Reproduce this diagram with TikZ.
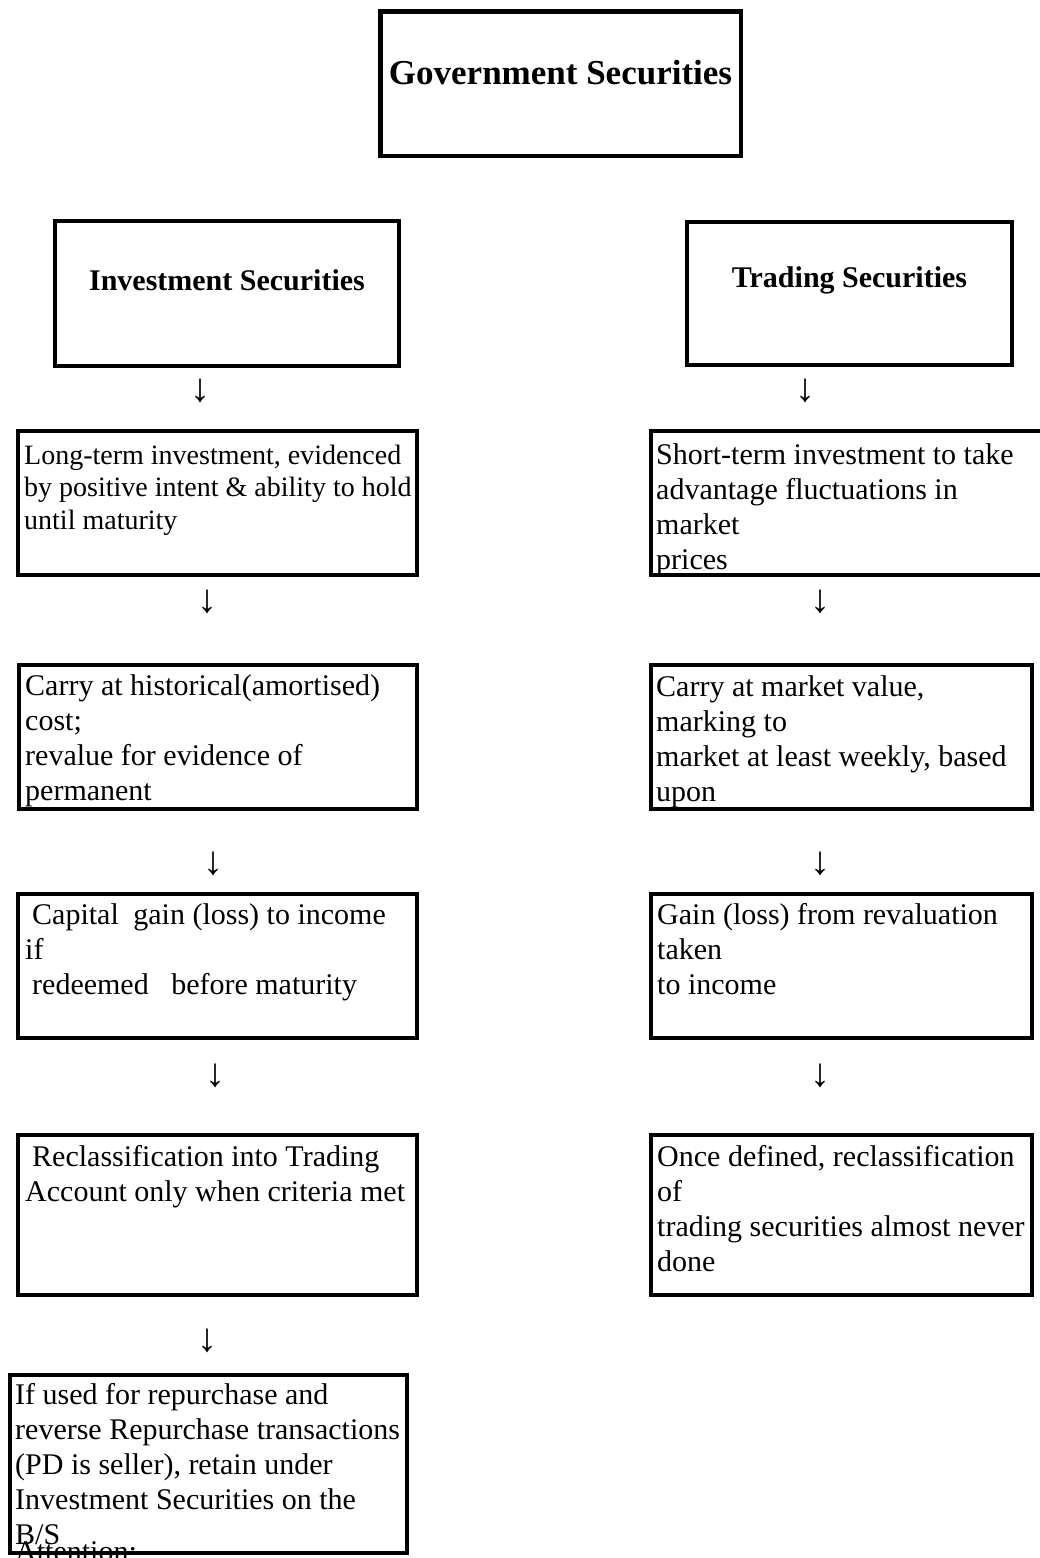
\documentclass[tikz,border=0pt]{standalone}
\usepackage{fontspec}
\setmainfont{Liberation Serif}
\begin{document}
\begin{tikzpicture}[x=1pt,y=-1pt,
  box/.style={draw=black, line width=4.5pt, rectangle, inner sep=0pt},
  title/.style={inner sep=0pt, anchor=base, font=\bfseries\fontsize{30}{35}\selectfont},
  body/.style={inner sep=0pt, anchor=base west, font=\fontsize{30}{35}\selectfont},
  smallbody/.style={inner sep=0pt, anchor=base west, font=\fontsize{28}{32.5}\selectfont},
  darrow/.style={inner sep=0pt, anchor=center, font=\fontsize{40}{44}\selectfont}]
\fill[white] (0,0) rectangle (1039,1558);
\useasboundingbox (0,0) rectangle (1039,1558);
% boxes
\node[box, minimum width=360.5pt, minimum height=144.5pt] (gov) at (560.5,83.5) {};
\node[box, minimum width=344pt, minimum height=145pt] (inv) at (227,293.5) {};
\node[box, minimum width=325pt, minimum height=143pt] (trd) at (849.5,293.5) {};
\node[box, minimum width=399pt, minimum height=144pt] (l1) at (217.5,503) {};
\node[box, minimum width=399pt, minimum height=144pt] (r1) at (850.5,503) {};
\node[box, minimum width=398pt, minimum height=144pt] (l2) at (218,737) {};
\node[box, minimum width=381pt, minimum height=144pt] (r2) at (841.5,737) {};
\node[box, minimum width=399pt, minimum height=144pt] (l3) at (217.5,966) {};
\node[box, minimum width=381pt, minimum height=144pt] (r3) at (841.5,966) {};
\node[box, minimum width=399pt, minimum height=160pt] (l4) at (217.5,1215) {};
\node[box, minimum width=381pt, minimum height=160pt] (r4) at (841.5,1215) {};
\node[box, minimum width=397pt, minimum height=178pt] (l6) at (208.5,1464) {};
% titles
\node[title, font=\bfseries\fontsize{35}{40}\selectfont] (govt) at (560.5,84) {Government Securities};
\node[title] (invt) at (227,290) {Investment Securities};
\node[title] (trdt) at (849.5,287) {Trading Securities};
% arrows
\node[darrow] (a1) at (200,391) {↓};
\node[darrow] (a2) at (805,391) {↓};
\node[darrow] (a3) at (207,602) {↓};
\node[darrow] (a4) at (820,602) {↓};
\node[darrow] (a5) at (213,864) {↓};
\node[darrow] (a6) at (820,864) {↓};
\node[darrow] (a7) at (215,1076) {↓};
\node[darrow] (a8) at (820,1076) {↓};
\node[darrow] (a9) at (207,1341) {↓};
% body texts
\node[smallbody] (l1t) at (24,464) {\parbox[t]{420pt}{\raggedright Long-term investment, evidenced\\by positive intent \& ability to hold\\until maturity}};
\node[body] (r1t) at (656,464) {\parbox[t]{420pt}{\raggedright Short-term investment to take\\advantage fluctuations in\\market\\prices}};
\node[body] (l2t) at (25,695) {\parbox[t]{420pt}{\raggedright Carry at historical(amortised)\\cost;\\revalue for evidence of\\permanent}};
\node[body] (r2t) at (656,696) {\parbox[t]{420pt}{\raggedright Carry at market value,\\marking to\\market at least weekly, based\\upon}};
\node[body] (l3t) at (25,924) {\parbox[t]{420pt}{\raggedright \hspace*{7pt}Capital\hspace*{7pt} gain (loss) to income\\if\\\hspace*{7pt}redeemed\hspace*{15pt} before maturity}};
\node[body] (r3t) at (657,924) {\parbox[t]{420pt}{\raggedright Gain (loss) from revaluation\\taken\\to income}};
\node[body] (l4t) at (25,1166) {\parbox[t]{420pt}{\raggedright \hspace*{7pt}Reclassification into Trading\\Account only when criteria met}};
\node[body] (r4t) at (657,1166) {\parbox[t]{420pt}{\raggedright Once defined, reclassification\\of\\trading securities almost never\\done}};
\node[body] (l6t) at (15,1404) {\parbox[t]{420pt}{\raggedright If used for repurchase and\\reverse Repurchase transactions\\(PD is seller), retain under\\Investment Securities on the\\B/S}};
\node[body] (att) at (15,1561) {Attention:};
\end{tikzpicture}
\end{document}
